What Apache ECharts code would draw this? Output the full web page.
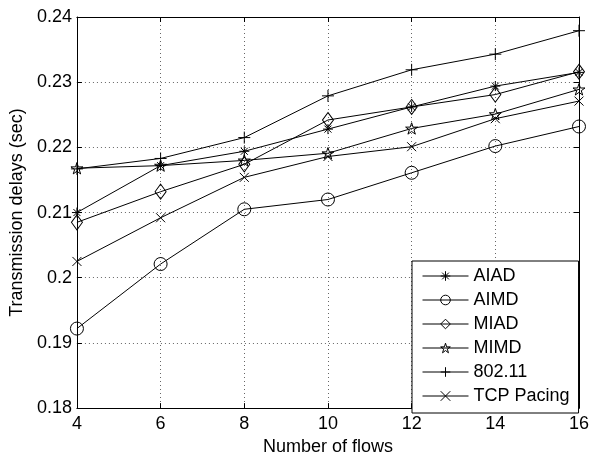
<!DOCTYPE html>
<html>
<head>
<meta charset="utf-8">
<title>Transmission delays</title>
<script src="https://cdn.jsdelivr.net/npm/echarts@6.0.0/dist/echarts.min.js"></script>
<style>
  html, body { margin: 0; padding: 0; background: #fff; }
  #chart { width: 592px; height: 461px; }
</style>
</head>
<body>
<div id="chart"></div>
<script>
// number of flows (x)
const flows = [4, 6, 8, 10, 12, 14, 16];
// transmission delay in sec, one array per scheme
const aiad = [0.2100, 0.2172, 0.2194, 0.2228, 0.2262, 0.2294, 0.2315];
const aimd = [0.1922, 0.2021, 0.2105, 0.2120, 0.2161, 0.2202, 0.2232];
const miad = [0.2085, 0.2132, 0.2174, 0.2242, 0.2262, 0.2281, 0.2316];
const mimd = [0.2168, 0.2172, 0.2180, 0.2191, 0.2229, 0.2251, 0.2289];
const ieee = [0.2167, 0.2183, 0.2215, 0.2279, 0.2319, 0.2343, 0.2379];
const pacing = [0.2025, 0.2092, 0.2154, 0.2186, 0.2201, 0.2244, 0.2271];
const yTicks = [0.18, 0.19, 0.2, 0.21, 0.22, 0.23, 0.24];

const FONT = 'Liberation Sans, Arial, sans-serif';

// matlab-ish marker shapes
const ASTERISK = 'path://M5,0L5,10M0,5L10,5M1.5,1.5L8.5,8.5M8.5,1.5L1.5,8.5';
const PLUS = 'path://M5,0L5,10M0,5L10,5';
const CROSS = 'path://M0,0L10,10M10,0L0,10';
const STAR = 'path://M10,0L12.245,6.91L19.511,6.91L13.633,11.18L15.878,18.09L10,13.82L4.122,18.09L6.367,11.18L0.489,6.91L7.755,6.91Z';

const hollow = { color: 'rgba(0,0,0,0)', borderColor: '#000', borderWidth: 1 };

function mk(name, arr, symbol, size) {
  return {
    name: name,
    type: 'line',
    data: flows.map((x, i) => [x, arr[i]]),
    symbol: symbol,
    symbolSize: size,
    symbolKeepAspect: true,
    color: '#000',
    lineStyle: { color: '#000', width: 1 },
    itemStyle: hollow,
    emphasis: { disabled: true },
    animation: false
  };
}

const xBase = {
  type: 'value', min: 4, max: 16, interval: 2,
  axisLine: { lineStyle: { color: '#000', width: 1 } },
  axisTick: { inside: true, length: 5, lineStyle: { color: '#000' } }
};
const yBase = {
  type: 'value', min: 0.18, max: 0.24, interval: 0.01,
  axisLine: { lineStyle: { color: '#000', width: 1 } },
  axisTick: { inside: true, length: 5, lineStyle: { color: '#000' } }
};

const chart = echarts.init(document.getElementById('chart'));
chart.setOption({
  backgroundColor: '#fff',
  textStyle: { fontFamily: FONT },
  grid: { left: 75, right: 10, top: 17, bottom: 44 },
  xAxis: [
    Object.assign({}, xBase, {
      position: 'bottom',
      name: 'Number of flows',
      nameLocation: 'middle',
      nameGap: 25,
      nameTextStyle: { fontSize: 18, color: '#000', fontFamily: FONT, verticalAlign: 'top' },
      axisLabel: { fontSize: 18, color: '#000', fontFamily: FONT, margin: 7 },
      splitLine: { show: true, lineStyle: { color: '#666', type: [1, 3], width: 1 } }
    }),
    Object.assign({}, xBase, {
      position: 'top',
      axisLabel: { show: false },
      splitLine: { show: false }
    })
  ],
  yAxis: [
    Object.assign({}, yBase, {
      position: 'left',
      name: 'Transmission delays (sec)',
      nameLocation: 'middle',
      nameGap: 48,
      nameTextStyle: { fontSize: 18, color: '#000', fontFamily: FONT },
      axisLabel: {
        fontSize: 18, color: '#000', fontFamily: FONT, margin: 5,
        formatter: v => {
          const t = yTicks.find(k => Math.abs(k - v) < 1e-9);
          return t === undefined ? '' : String(t);
        }
      },
      splitLine: { show: true, lineStyle: { color: '#666', type: [1, 3], width: 1 } }
    }),
    Object.assign({}, yBase, {
      position: 'right',
      axisLabel: { show: false },
      splitLine: { show: false }
    })
  ],
  legend: {
    orient: 'vertical',
    left: 412,
    top: 261,
    width: 169,
    backgroundColor: '#fff',
    borderColor: '#000',
    borderWidth: 1,
    borderRadius: 0,
    padding: [6, 9, 8, 10],
    itemWidth: 46,
    itemHeight: 12,
    itemGap: 6,
    selectedMode: false,
    itemStyle: hollow,
    lineStyle: { color: '#000', width: 1 },
    textStyle: { fontSize: 18, color: '#000', fontFamily: FONT },
    data: ['AIAD', 'AIMD', 'MIAD', 'MIMD', '802.11', 'TCP Pacing']
  },
  series: [
    mk('AIAD', aiad, ASTERISK, 10),
    mk('AIMD', aimd, 'circle', 13),
    mk('MIAD', miad, 'diamond', [11, 15]),
    mk('MIMD', mimd, STAR, 12),
    mk('802.11', ieee, PLUS, 12),
    mk('TCP Pacing', pacing, CROSS, 9)
  ]
});
</script>
</body>
</html>
